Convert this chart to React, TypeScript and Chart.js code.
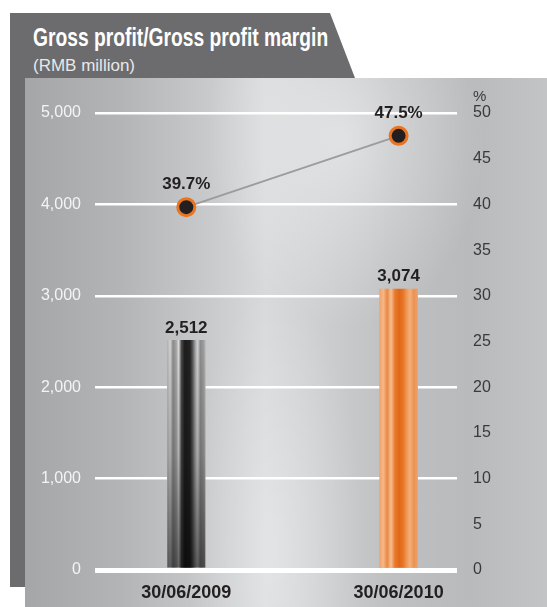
import React, { useEffect, useRef } from 'react';
import { Chart, registerables } from 'chart.js';

Chart.register(...registerables);

// ---- data ----
const categories = ['30/06/2009', '30/06/2010'];
const grossProfit = [2512, 3074]; // RMB million
const grossMargin = [39.7, 47.5]; // %
const profitAxis = { min: 0, max: 5000, step: 1000 };
const marginAxis = { min: 0, max: 50, step: 5 };

// ---- styles ----
const BAR_W = 38;
const darkStops: [number, string][] = [
  [0, '#b4b4b4'], [0.08, '#d2d2d2'], [0.15, '#8a8a8a'], [0.24, '#a8a8a8'],
  [0.3, '#dedede'], [0.37, '#4a4a4a'], [0.46, '#1c1c1c'], [0.6, '#242424'],
  [0.67, '#5c5c5c'], [0.75, '#b2b2b2'], [0.8, '#d0d0d0'], [0.87, '#8c8c8c'],
  [0.95, '#9c9c9c'], [1, '#b6b6b6'],
];
const orangeStops: [number, string][] = [
  [0, '#f0a46c'], [0.1, '#f6b688'], [0.2, '#ea8842'], [0.3, '#f6bf94'],
  [0.4, '#e97a2e'], [0.52, '#e06816'], [0.62, '#e87628'], [0.72, '#f09a58'],
  [0.8, '#f4b07c'], [0.9, '#ec9252'], [1, '#f0a06a'],
];

function barFill(c: any) {
  const fallback = c.dataIndex === 0 ? '#555555' : '#e8782a';
  if (c.type !== 'data') return fallback;
  const chart = c.chart;
  const xs = chart.scales && chart.scales.x;
  if (!xs) return fallback;
  const cx = xs.getPixelForValue(c.parsed ? c.parsed.x : c.dataIndex);
  if (!isFinite(cx)) return fallback;
  const g = chart.ctx.createLinearGradient(cx - BAR_W / 2, 0, cx + BAR_W / 2, 0);
  const stops = c.dataIndex === 0 ? darkStops : orangeStops;
  stops.forEach(([o, col]) => g.addColorStop(o, col));
  return g;
}

const FONT = "'Liberation Sans', Arial, Helvetica, sans-serif";

const labelPlugin = {
  id: 'valueLabels',
  afterDatasetDraw(chart: any, args: any) {
    if (args.index !== 0) return;
    const ctx = chart.ctx;
    const el = args.meta.data[0];
    if (!el || !isFinite(el.y) || !isFinite(el.base)) return;
    ctx.save();
    const g = ctx.createLinearGradient(0, el.y, 0, el.base);
    g.addColorStop(0, 'rgba(0,0,0,0)');
    g.addColorStop(0.5, 'rgba(0,0,0,0.18)');
    g.addColorStop(1, 'rgba(0,0,0,0.55)');
    ctx.fillStyle = g;
    ctx.fillRect(el.x - el.width / 2, el.y, el.width, el.base - el.y);
    ctx.restore();
  },
  afterDatasetsDraw(chart: any) {
    const ctx = chart.ctx;
    ctx.save();
    const barMeta = chart.getDatasetMeta(0);
    const lineMeta = chart.getDatasetMeta(1);
    ctx.fillStyle = '#231f20';
    ctx.font = `bold 17px ${FONT}`;
    ctx.textAlign = 'center';
    ctx.textBaseline = 'bottom';
    barMeta.data.forEach((el: any, i: number) => {
      ctx.fillText(grossProfit[i].toLocaleString('en-US'), el.x, el.y - 4);
    });
    lineMeta.data.forEach((el: any, i: number) => {
      ctx.fillText(grossMargin[i].toFixed(1) + '%', el.x, el.y - 14);
    });
    const y1 = chart.scales.y1;
    ctx.font = `15px ${FONT}`;
    ctx.fillStyle = '#3a3a3a';
    ctx.textAlign = 'left';
    ctx.textBaseline = 'middle';
    ctx.fillText('%', y1.left + 16, y1.getPixelForValue(marginAxis.max) - 16);
    ctx.restore();
  },
};

export default function App() {
  const ref = useRef<HTMLCanvasElement | null>(null);

  useEffect(() => {
    if (!ref.current) return;
    const chart = new Chart(ref.current, {
      type: 'bar',
      data: {
        datasets: [
          {
            type: 'bar',
            label: 'Gross profit',
            data: grossProfit.map((v, i) => ({ x: i, y: v })),
            backgroundColor: barFill,
            barThickness: BAR_W,
            borderWidth: 0,
            yAxisID: 'y',
            order: 1,
          },
          {
            type: 'line',
            label: 'Gross profit margin',
            data: grossMargin.map((v, i) => ({ x: i, y: v })),
            borderColor: '#9c9c9c',
            borderWidth: 2,
            pointRadius: 8.5,
            pointBorderWidth: 3,
            pointBackgroundColor: '#231f20',
            pointBorderColor: '#ea741f',
            yAxisID: 'y1',
            order: 0,
          } as any,
        ],
      },
      options: {
        animation: false,
        responsive: false,
        devicePixelRatio: 1,
        layout: { padding: { top: 35, left: 0, right: 0, bottom: 0 } },
        plugins: { legend: { display: false }, tooltip: { enabled: false } },
        scales: {
          x: {
            type: 'linear',
            min: -0.43,
            max: 1.275,
            offset: false,
            grid: { display: false, drawTicks: false },
            border: { display: false },
            afterBuildTicks: (s: any) => {
              s.ticks = categories.map((_, i) => ({ value: i }));
            },
            afterFit: (s: any) => {
              s.height = 37;
            },
            ticks: {
              autoSkip: false,
              maxRotation: 0,
              padding: 12,
              color: '#231f20',
              font: { family: FONT, size: 18, weight: 'bold' },
              callback: (v: any) => categories[v] ?? '',
            },
          },
          y: {
            position: 'left',
            min: profitAxis.min,
            max: profitAxis.max,
            border: { display: false },
            grid: {
              color: '#ffffff',
              lineWidth: (c: any) => (c.tick && c.tick.value === 0 ? 5 : 2.5),
              drawTicks: false,
            },
            afterFit: (s: any) => {
              s.width = 70;
            },
            ticks: {
              stepSize: profitAxis.step,
              padding: 14,
              color: '#f4f4f4',
              font: { family: FONT, size: 16 },
              callback: (v: any) => Number(v).toLocaleString('en-US'),
            },
          },
          y1: {
            position: 'right',
            min: marginAxis.min,
            max: marginAxis.max,
            border: { display: false },
            grid: { display: false, drawTicks: false },
            afterFit: (s: any) => {
              s.width = 90;
            },
            ticks: {
              stepSize: marginAxis.step,
              padding: 16,
              color: '#3a3a3a',
              font: { family: FONT, size: 16 },
            },
          },
        },
      } as any,
      plugins: [labelPlugin],
    });
    return () => chart.destroy();
  }, []);

  return (
    <div
      style={{
        position: 'absolute',
        left: 0,
        top: 0,
        width: 547,
        height: 607,
        background: '#ffffff',
        overflow: 'hidden',
      }}
    >
      <div
        style={{
          position: 'absolute',
          left: 10,
          top: 13,
          width: 345,
          height: 574,
          background: '#6c6c6e',
          clipPath: 'polygon(0 0, 320px 0, 345px 65px, 345px 100%, 0 100%)',
        }}
      />
      <div
        style={{
          position: 'absolute',
          left: 33,
          top: 25,
          fontFamily: FONT,
          fontWeight: 'bold',
          fontSize: 25,
          lineHeight: '25px',
          color: '#ffffff',
          whiteSpace: 'nowrap',
          transform: 'scaleX(0.77)',
          transformOrigin: '0 0',
        }}
      >
        Gross profit/Gross profit margin
      </div>
      <div
        style={{
          position: 'absolute',
          left: 33,
          top: 57,
          fontFamily: FONT,
          fontSize: 17,
          lineHeight: '17px',
          color: '#e8e8e8',
          whiteSpace: 'nowrap',
        }}
      >
        (RMB million)
      </div>
      <div
        style={{
          position: 'absolute',
          left: 25,
          top: 78,
          width: 522,
          height: 529,
          background:
            'radial-gradient(ellipse 140px 190px at 320px 60px, rgba(255,255,255,0.45), rgba(255,255,255,0) 100%),' +
            'radial-gradient(ellipse 90px 260px at 250px 470px, rgba(255,255,255,0.3), rgba(255,255,255,0) 100%),' +
            'linear-gradient(90deg, #a4a6a8 0%, #b2b4b6 18%, #c6c8ca 34%, #d8d9db 46%, #cdcfd1 56%, #bec0c2 70%, #b8babc 85%, #c2c4c6 100%)',
        }}
      >
        <canvas ref={ref} width={522} height={529} style={{ display: 'block', width: 522, height: 529 }} />
      </div>
    </div>
  );
}
